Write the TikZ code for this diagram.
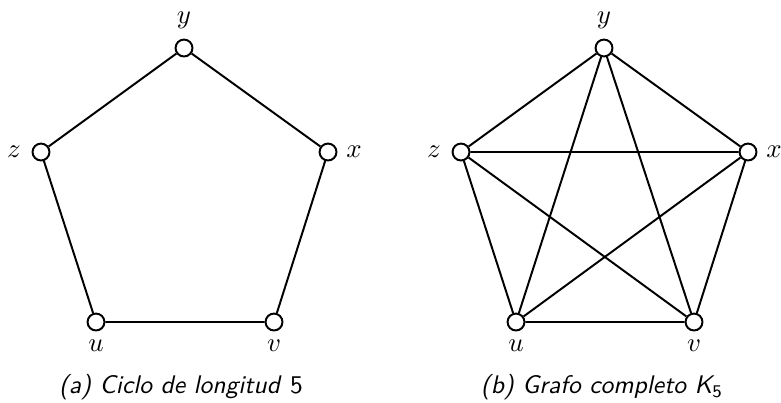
\documentclass[tikz,border=0pt]{standalone}
\begin{document}
\begin{tikzpicture}[x=0.408pt,y=-0.408pt,
  vtx/.style={circle,draw,line width=0.8pt,fill=white,minimum size=6.9pt,inner sep=0pt},
  lab/.style={inner sep=0pt,font=\fontsize{10.6}{12}\selectfont},
  lnk/.style={line width=0.8pt},
  captxt/.style={inner sep=0pt,font=\fontsize{10.4}{12}\selectfont\sffamily\itshape}]
\useasboundingbox (0,0) rectangle (781,402);
% (a) cycle
\node[vtx] (ay) at (184,48) {};
\node[vtx] (az) at (41,152) {};
\node[vtx] (ax) at (328,152) {};
\node[vtx] (au) at (96,322) {};
\node[vtx] (av) at (274,322) {};
\node[lab] (lay) at (184,20) {$y$};
\node[lab] (laz) at (14,152) {$z$};
\node[lab] (lax) at (354,152) {$x$};
\node[lab] (lau) at (96,346) {$u$};
\node[lab] (lav) at (274,346) {$v$};
\draw[lnk] (ay) -- (ax) (ax) -- (av) (av) -- (au) (au) -- (az) (az) -- (ay);
\node[captxt] (capa) at (181,387) {(a) Ciclo de longitud \textup{5}};
% (b) complete graph
\node[vtx] (by) at (604,48) {};
\node[vtx] (bz) at (461,152) {};
\node[vtx] (bx) at (748,152) {};
\node[vtx] (bu) at (516,322) {};
\node[vtx] (bv) at (694,322) {};
\node[lab] (lby) at (604,20) {$y$};
\node[lab] (lbz) at (434,152) {$z$};
\node[lab] (lbx) at (774,152) {$x$};
\node[lab] (lbu) at (516,346) {$u$};
\node[lab] (lbv) at (694,346) {$v$};
\draw[lnk] (by) -- (bx) (bx) -- (bv) (bv) -- (bu) (bu) -- (bz) (bz) -- (by)
  (by) -- (bu) (by) -- (bv) (bz) -- (bx) (bz) -- (bv) (bx) -- (bu);
\node[captxt] (capb) at (602,387) {(b) Grafo completo K\textsubscript{\textup{5}}};
\end{tikzpicture}
\end{document}
